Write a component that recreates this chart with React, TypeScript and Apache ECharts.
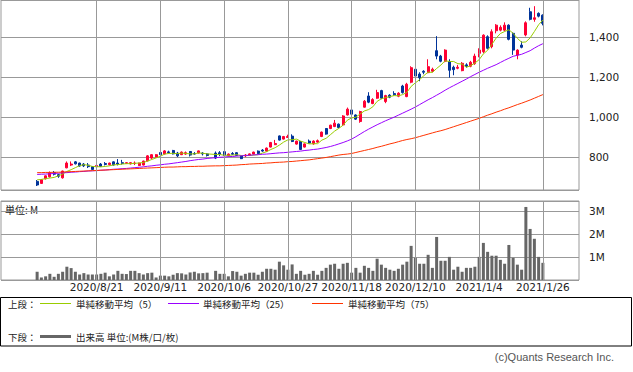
import React, { useEffect, useRef } from "react";
import * as echarts from "echarts";

const dates = [
  "2020/7/31",
  "2020/8/3", "2020/8/4", "2020/8/5", "2020/8/6", "2020/8/7",
  "2020/8/11", "2020/8/12", "2020/8/13", "2020/8/14",
  "2020/8/17", "2020/8/18", "2020/8/19", "2020/8/20", "2020/8/21",
  "2020/8/24", "2020/8/25", "2020/8/26", "2020/8/27", "2020/8/28",
  "2020/8/31", "2020/9/1", "2020/9/2", "2020/9/3", "2020/9/4",
  "2020/9/7", "2020/9/8", "2020/9/9", "2020/9/10", "2020/9/11",
  "2020/9/14", "2020/9/15", "2020/9/16", "2020/9/17", "2020/9/18",
  "2020/9/23", "2020/9/24", "2020/9/25",
  "2020/9/28", "2020/9/29", "2020/9/30", "2020/10/1", "2020/10/2",
  "2020/10/5", "2020/10/6",
  "2020/10/7", "2020/10/8", "2020/10/9",
  "2020/10/12", "2020/10/13", "2020/10/14", "2020/10/15", "2020/10/16",
  "2020/10/19", "2020/10/20", "2020/10/21", "2020/10/22", "2020/10/23",
  "2020/10/26", "2020/10/27",
  "2020/10/28", "2020/10/29", "2020/10/30",
  "2020/11/2",
  "2020/11/4", "2020/11/5", "2020/11/6",
  "2020/11/9", "2020/11/10", "2020/11/11", "2020/11/12", "2020/11/13",
  "2020/11/16", "2020/11/17", "2020/11/18",
  "2020/11/19", "2020/11/20",
  "2020/11/24", "2020/11/25", "2020/11/26", "2020/11/27",
  "2020/11/30",
  "2020/12/1", "2020/12/2", "2020/12/3", "2020/12/4",
  "2020/12/7", "2020/12/8", "2020/12/9", "2020/12/10",
  "2020/12/11",
  "2020/12/14", "2020/12/15", "2020/12/16", "2020/12/17", "2020/12/18",
  "2020/12/21", "2020/12/22", "2020/12/23", "2020/12/24", "2020/12/25",
  "2020/12/28", "2020/12/29", "2020/12/30",
  "2021/1/4",
  "2021/1/5", "2021/1/6", "2021/1/7", "2021/1/8",
  "2021/1/12", "2021/1/13", "2021/1/14", "2021/1/15",
  "2021/1/18", "2021/1/19", "2021/1/20", "2021/1/21", "2021/1/22",
  "2021/1/25", "2021/1/26",
];

const opens = [
  678, 668, 691, 701, 722, 712, 696, 746, 760, 776,
  770, 765, 760, 752, 752, 765, 768, 762, 776, 770,
  772, 768, 766, 768, 758, 760, 781, 795, 800, 823,
  816, 826, 833, 820, 812, 815, 828, 818, 820, 820,
  816, null, 820, 822, 827, 806, 818, 822, 806, 806,
  808, 815, 830, 835, 830, 850, 862, 906, 890, 898,
  905, 865, 878, 850, 880, 866, 875, 903, 943, 943,
  953, 965, 961, 1011, 1036, 1011, 978, 1050, 1106, 1068,
  1095, 1133, 1078, 1110, 1118, 1105, 1156, 1103, 1175, 1240,
  1216, 1230, 1223, 1230, 1333, 1306, 1280, 1278, 1250, 1245,
  1233, 1262, 1255, 1268, 1320, 1328, 1403, 1353, 1433, 1436,
  1436, 1461, 1420, 1311, 1361, 1412, 1528, 1490, 1520, 1511,
];

const highs = [
  685, 690, 708, 728, 730, 716, 732, 778, 778, 780,
  772, 770, 770, 755, 765, 770, 775, 772, 778, 790,
  786, 775, 775, 778, 772, 782, 810, 815, 815, 826,
  835, 832, 836, 826, 828, 828, 830, 825, 833, 825,
  820, null, 828, 830, 829, 818, 825, 825, 808, 815,
  818, 827, 833, 840, 848, 876, 886, 908, 906, 912,
  914, 882, 880, 868, 888, 884, 888, 928, 945, 962,
  986, 968, 1010, 1048, 1040, 1014, 1032, 1086, 1125, 1095,
  1137, 1137, 1112, 1115, 1130, 1125, 1162, 1172, 1255, 1245,
  1225, 1235, 1290, 1248, 1406, 1312, 1340, 1290, 1258, 1262,
  1276, 1270, 1282, 1318, 1345, 1415, 1410, 1440, 1466, 1460,
  1475, 1465, 1425, 1340, 1380, 1480, 1548, 1556, 1525, 1515,
];

const lows = [
  655, 665, 688, 697, 708, 696, 692, 744, 755, 763,
  752, 750, 745, 735, 748, 750, 758, 758, 758, 758,
  762, 765, 763, 760, 755, 758, 778, 790, 798, 808,
  813, 818, 813, 800, 810, 811, 803, 812, 818, 808,
  803, null, 790, 805, 806, 803, 812, 806, 790, 800,
  806, 812, 815, 826, 826, 848, 860, 883, 888, 896,
  875, 862, 835, 848, 866, 862, 872, 900, 912, 940,
  950, 945, 956, 1008, 1012, 986, 972, 1048, 1070, 1065,
  1092, 1090, 1070, 1095, 1108, 1100, 1118, 1100, 1170, 1185,
  1180, 1215, 1220, 1225, 1290, 1275, 1275, 1198, 1210, 1240,
  1230, 1248, 1250, 1262, 1300, 1320, 1340, 1345, 1420, 1430,
  1430, 1385, 1312, 1290, 1345, 1405, 1485, 1478, 1500, 1460,
];

const closes = [
  660, 686, 706, 721, 714, 704, 730, 770, 765, 766,
  755, 756, 752, 738, 758, 753, 763, 770, 760, 765,
  768, 772, 772, 770, 770, 780, 806, 812, 812, 812,
  831, 822, 816, 806, 825, 822, 810, 815, 831, 816,
  808, null, 795, 815, 810, 815, 814, 808, 792, 810,
  816, 825, 817, 830, 845, 873, 868, 885, 903, 903,
  878, 880, 838, 866, 870, 880, 882, 925, 915, 960,
  970, 948, 1006, 1040, 1015, 990, 1028, 1080, 1075, 1088,
  1123, 1095, 1108, 1100, 1112, 1120, 1123, 1165, 1248, 1206,
  1198, 1225, 1253, 1240, 1306, 1280, 1336, 1235, 1238, 1250,
  1270, 1255, 1275, 1306, 1336, 1411, 1345, 1428, 1461, 1450,
  1461, 1390, 1336, 1336, 1350, 1473, 1490, 1498, 1506, 1470,
];

const ma5 = [
  686, 688, 692, 695, 698, 706, 715, 728, 737, 747,
  757, 762, 759, 753, 752, 751, 753, 756, 761, 762,
  765, 767, 767, 769, 770, 773, 780, 788, 796, 804,
  815, 818, 819, 817, 820, 818, 816, 816, 821, 819,
  816, null, 813, 813, 809, 809, 810, 812, 808, 808,
  808, 810, 812, 820, 827, 838, 847, 860, 875, 886,
  887, 890, 880, 873, 866, 867, 867, 885, 894, 912,
  930, 944, 960, 985, 996, 1000, 1016, 1031, 1038, 1052,
  1079, 1092, 1098, 1103, 1108, 1107, 1113, 1124, 1154, 1172,
  1188, 1208, 1226, 1224, 1244, 1261, 1283, 1279, 1279, 1268,
  1266, 1250, 1258, 1271, 1288, 1317, 1335, 1365, 1396, 1419,
  1429, 1438, 1420, 1395, 1375, 1377, 1397, 1429, 1463, 1487,
];

const ma25 = [
  713, 714, 715, 716, 718, 719, 721, 722, 724, 725,
  727, 728, 730, 731, 732, 734, 735, 737, 739, 740,
  742, 743, 745, 747, 749, 751, 754, 756, 759, 761,
  764, 766, 769, 772, 775, 778, 782, 785, 788, 790,
  793, null, 797, 799, 800, 802, 803, 805, 806, 808,
  809, 811, 812, 814, 815, 817, 819, 821, 822, 824,
  826, 828, 830, 833, 835, 838, 840, 844, 848, 853,
  859, 866, 873, 881, 890, 902, 915, 928, 940, 951,
  962, 972, 982, 991, 1000, 1010, 1020, 1030, 1040, 1051,
  1063, 1075, 1087, 1098, 1110, 1122, 1135, 1147, 1158, 1169,
  1180, 1191, 1203, 1214, 1225, 1235, 1245, 1254, 1263, 1274,
  1285, 1295, 1305, 1310, 1315, 1324, 1333, 1346, 1358, 1368,
];

const ma75 = [
  722, 722, 723, 723, 724, 724, 725, 726, 727, 728,
  729, 730, 731, 732, 733, 734, 735, 736, 737, 738,
  739, 740, 741, 742, 743, 744, 745, 746, 747, 748,
  749, 750, 750, 751, 752, 752, 753, 753, 754, 754,
  755, null, 756, 756, 757, 758, 759, 760, 762, 763,
  765, 766, 767, 768, 770, 771, 773, 774, 775, 777,
  778, 780, 782, 784, 786, 789, 792, 795, 798, 802,
  806, 810, 813, 815, 818, 823, 828, 833, 838, 843,
  849, 854, 860, 866, 871, 877, 883, 888, 892, 897,
  903, 909, 915, 921, 927, 932, 938, 945, 952, 959,
  966, 973, 980, 987, 994, 1002, 1010, 1017, 1025, 1032,
  1040, 1047, 1055, 1063, 1070, 1078, 1086, 1095, 1104, 1113,
];

// volume in millions of shares
const volumes = [
  0.36, 0.11, 0.16, 0.27, 0.14, 0.27, 0.36, 0.58, 0.52, 0.36,
  0.24, 0.30, 0.24, 0.24, 0.24, 0.27, 0.32, 0.16, 0.24, 0.40,
  0.27, 0.26, 0.40, 0.40, 0.30, 0.24, 0.30, 0.32, 0.11, 0.19,
  0.19, 0.16, 0.23, 0.30, 0.29, 0.24, 0.33, 0.36, 0.29, 0.30,
  0.32, null, 0.40, 0.27, 0.27, 0.16, 0.39, 0.36, 0.19, 0.27,
  0.32, 0.32, 0.23, 0.36, 0.49, 0.49, 0.45, 0.80, 0.64, 0.45,
  0.68, 0.27, 0.40, 0.23, 0.27, 0.40, 0.23, 0.40, 0.53, 0.67,
  0.71, 0.49, 0.71, 0.75, 0.32, 0.53, 0.32, 0.62, 0.53, 0.40,
  0.93, 0.67, 0.53, 0.45, 0.40, 0.49, 0.67, 0.80, 1.49, 0.97,
  0.71, 0.71, 1.10, 0.53, 1.88, 0.84, 0.84, 1.01, 0.45, 0.58,
  0.36, 0.53, 0.53, 0.58, 1.01, 1.62, 1.23, 1.06, 1.06, 0.88,
  0.71, 1.53, 0.97, 0.67, 0.45, 3.19, 2.23, 1.80, 1.01, 0.75,
];

const labelDates = [
  "2020/8/21", "2020/9/11", "2020/10/6", "2020/10/27",
  "2020/11/18", "2020/12/10", "2021/1/4", "2021/1/26",
];

const legendItems = [
  { name: "単純移動平均（5）", color: "#99cc00" },
  { name: "単純移動平均（25）", color: "#9900ff" },
  { name: "単純移動平均（75）", color: "#ff3300" },
];

const UP = "#ff0033";
const DOWN = "#003399";
const GRID = "#999999";
const PAD_LEFT = 8;
const PAD_RIGHT = 8;
const CJK = "Noto Sans CJK JP";
const LATIN = "DejaVu Sans";

function buildOption() {
  const leftPad = Array.from({ length: PAD_LEFT }, (_, i) => "padL" + i);
  const rightPad = Array.from({ length: PAD_RIGHT }, (_, i) => "padR" + i);
  const cats = [...leftPad, ...dates, ...rightPad];
  const blankL = leftPad.map(() => "-");
  const blankR = rightPad.map(() => "-");
  const pad = (arr: (number | null)[]) => [
    ...blankL,
    ...arr.map((v) => (v == null ? "-" : v)),
    ...blankR,
  ];
  const candles = [
    ...blankL,
    ...dates.map((_, i) =>
      opens[i] == null ? "-" : [opens[i], closes[i], lows[i], highs[i]]
    ),
    ...blankR,
  ];
  const empty = cats.map(() => "-");
  const comma = (v: number) =>
    String(v).replace(/\B(?=(\d{3})+(?!\d))/g, ",");
  const markLine = {
    silent: true,
    symbol: ["none", "none"],
    label: { show: false },
    lineStyle: { color: GRID, width: 1, type: "solid" },
    emphasis: { disabled: true },
    data: labelDates.map((d) => ({ xAxis: d })),
  };

  const txt = (
    text: string,
    x: number,
    y: number,
    size: number,
    family: string,
    fill = "#222",
    align = "left"
  ) => ({
    type: "text",
    x,
    y,
    style: {
      text,
      fontSize: size,
      fontFamily: family,
      fill,
      align,
      textAlign: align,
      verticalAlign: "middle",
      textVerticalAlign: "middle",
    },
  });

  const graphic: any[] = [
    txt("単位: M", 5, 209.5, 10, CJK),
    {
      type: "rect",
      shape: { x: 0.5, y: 297.5, width: 631, height: 48.5 },
      style: { fill: "none", stroke: "#000", lineWidth: 1 },
    },
    txt("上段：", 8, 303.5, 9.5, CJK),
    txt("下段：", 8, 336.5, 9.5, CJK),
    {
      type: "line",
      shape: { x1: 40, y1: 336.5, x2: 71, y2: 336.5 },
      style: { stroke: "#666", lineWidth: 3 },
    },
    txt("出来高 単位:(M株/口/枚)", 76, 336.5, 9.5, CJK),
    txt("(c)Quants Research Inc.", 614, 357, 11, "Liberation Sans", "#555", "right"),
  ];
  const legendX = [
    [40, 71, 76],
    [168, 199, 203],
    [312, 343, 348],
  ];
  legendItems.forEach((it, k) => {
    const [a, b, t] = legendX[k];
    graphic.push({
      type: "line",
      shape: { x1: a, y1: 303.5, x2: b, y2: 303.5 },
      style: { stroke: it.color, lineWidth: 1 },
    });
    graphic.push(txt(it.name, t, 303.5, 9.5, CJK));
  });

  return {
    animation: false,
    backgroundColor: "#fff",
    grid: [
      {
        left: 1,
        top: 0,
        width: 578,
        height: 190,
        show: true,
        borderColor: GRID,
        borderWidth: 1,
      },
      {
        left: 1,
        top: 201,
        width: 578,
        height: 79,
        show: true,
        borderColor: GRID,
        borderWidth: 1,
      },
    ],
    xAxis: [
      {
        type: "category",
        gridIndex: 0,
        data: cats,
        boundaryGap: true,
        axisLine: { show: false },
        axisTick: { show: false },
        axisLabel: { show: false },
        splitLine: { show: false },
      },
      {
        type: "category",
        gridIndex: 1,
        data: cats,
        boundaryGap: true,
        axisLine: { show: false },
        axisTick: { show: false },
        splitLine: { show: false },
        axisLabel: {
          interval: (_i: number, v: string) => labelDates.includes(v),
          margin: 1.5,
          fontSize: 10.5,
          fontFamily: LATIN,
          color: "#222",
        },
      },
    ],
    yAxis: [
      {
        type: "value",
        gridIndex: 0,
        position: "right",
        min: 635,
        max: 1587,
        splitNumber: 5,
        axisLine: { show: false },
        axisTick: { show: false },
        splitLine: { show: true, lineStyle: { color: GRID, width: 1 } },
        axisLabel: {
          margin: 10,
          fontSize: 10.5,
          fontFamily: LATIN,
          color: "#222",
          formatter: (v: number) => (v % 200 === 0 ? comma(v) : ""),
        },
      },
      {
        type: "value",
        gridIndex: 1,
        position: "right",
        min: 0,
        max: 3.45,
        interval: 1,
        axisLine: { show: false },
        axisTick: { show: false },
        splitLine: { show: true, lineStyle: { color: GRID, width: 1 } },
        axisLabel: {
          margin: 10,
          fontSize: 10.5,
          fontFamily: LATIN,
          color: "#222",
          formatter: (v: number) =>
            v > 0 && Number.isInteger(v) ? v + "M" : "",
        },
      },
    ],
    series: [
      {
        type: "line",
        xAxisIndex: 0,
        yAxisIndex: 0,
        data: empty,
        z: 1,
        silent: true,
        symbol: "none",
        markLine,
      },
      {
        type: "candlestick",
        xAxisIndex: 0,
        yAxisIndex: 0,
        data: candles,
        barWidth: 2.4,
        z: 3,
        itemStyle: {
          color: UP,
          color0: DOWN,
          borderColor: UP,
          borderColor0: DOWN,
          borderWidth: 1,
        },
      },
      {
        type: "line",
        name: "MA5",
        xAxisIndex: 0,
        yAxisIndex: 0,
        data: pad(ma5),
        symbol: "none",
        connectNulls: true,
        z: 4,
        lineStyle: { color: "#99cc00", width: 1 },
      },
      {
        type: "line",
        name: "MA25",
        xAxisIndex: 0,
        yAxisIndex: 0,
        data: pad(ma25),
        symbol: "none",
        connectNulls: true,
        z: 4,
        lineStyle: { color: "#9900ff", width: 1 },
      },
      {
        type: "line",
        name: "MA75",
        xAxisIndex: 0,
        yAxisIndex: 0,
        data: pad(ma75),
        symbol: "none",
        connectNulls: true,
        z: 4,
        lineStyle: { color: "#ff3300", width: 1 },
      },
      {
        type: "line",
        xAxisIndex: 1,
        yAxisIndex: 1,
        data: empty,
        z: 1,
        silent: true,
        symbol: "none",
        markLine,
      },
      {
        type: "bar",
        xAxisIndex: 1,
        yAxisIndex: 1,
        data: pad(volumes),
        barWidth: 3,
        z: 3,
        itemStyle: { color: "#666666" },
      },
    ],
    graphic,
  };
}

export default function App() {
  const ref = useRef<HTMLDivElement>(null);
  useEffect(() => {
    if (!ref.current) return;
    const chart = echarts.init(ref.current, null, { renderer: "svg" });
    chart.setOption(buildOption() as any);
    return () => chart.dispose();
  }, []);
  return (
    <div
      ref={ref}
      style={{
        position: "absolute",
        left: 0,
        top: 0,
        width: 633,
        height: 372,
        background: "#fff",
      }}
    />
  );
}
